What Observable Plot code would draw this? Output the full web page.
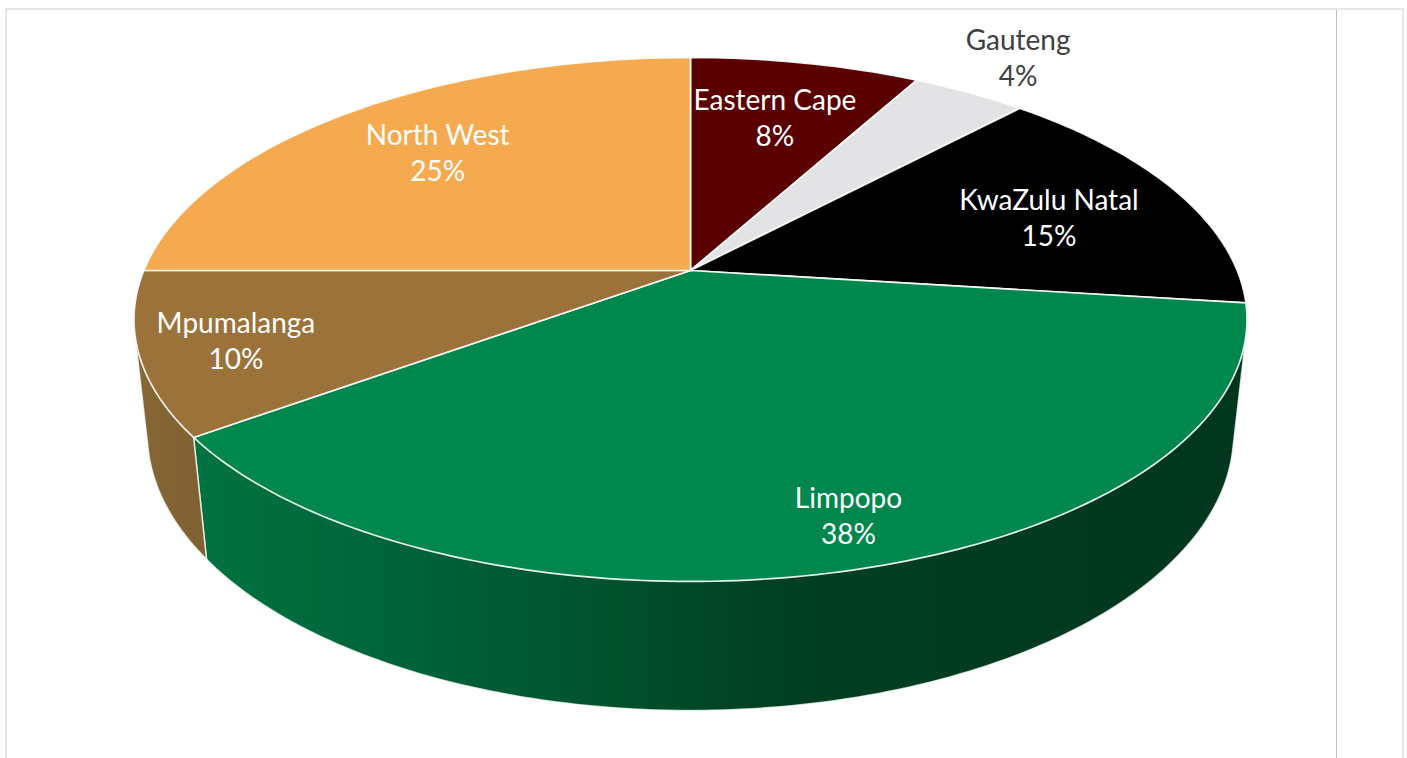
<!DOCTYPE html>
<html>
<head>
<meta charset="utf-8">
<title>Share by province</title>
<script src="https://cdn.jsdelivr.net/npm/d3@7"></script>
<script src="https://cdn.jsdelivr.net/npm/@observablehq/plot@0.6"></script>
<style>
  html, body { margin: 0; padding: 0; background: #fff; overflow: hidden; }
  #chart { position: relative; width: 1407px; height: 758px; }
  #chart svg { position: absolute; left: 0; top: 0; background: transparent; }
  .frame { position: absolute; background: #e6e6e6; }
  #frame-top { left: 5px; top: 8px; width: 1398px; height: 2px; }
  #frame-left { left: 5px; top: 8px; width: 2px; height: 750px; }
  #frame-right { left: 1402px; top: 8px; width: 2px; height: 750px; }
  #frame-inner { left: 1336px; top: 10px; width: 1px; height: 748px; background: #c0c0c0; }
</style>
</head>
<body>
<div id="chart">
  <div class="frame" id="frame-top"></div>
  <div class="frame" id="frame-left"></div>
  <div class="frame" id="frame-right"></div>
  <div class="frame" id="frame-inner"></div>
</div>
<script>
// Provinces in clockwise order starting from twelve o'clock.
const provinces = ["Eastern Cape", "Gauteng", "KwaZulu Natal", "Limpopo", "Mpumalanga", "North West"];
const shares = [8, 4, 15, 38, 10, 25];
const topColors = ["#5a0000", "#e3e3e5", "#000000", "#00874d", "#9b733a", "#f5aa50"];
const labelColors = ["#ffffff", "#404040", "#ffffff", "#ffffff", "#ffffff", "#ffffff"];

// Label placement on the disc: radius, and a nudge (in share points) from the slice middle.
const labelRadius = [0.70, 1.223, 0.714, 0.858, 0.834, 0.716];
const labelNudge = [0, -0.13, 0.7, -0.6, -0.2, 0];

// Only the two front slices show a side wall.
const wallFills = {Limpopo: "url(#limpopo-wall)", Mpumalanga: "url(#mpumalanga-wall)"};
const limpopoWallStops = [[0, "#00723f"], [0.2, "#00633a"], [0.4, "#00512c"], [0.55, "#003f22"], [1, "#00361d"]];
const mpumalangaWallStops = [[0, "#876736"], [1, "#7f6032"]];

// Perspective camera: depth foreshortening of the disc, and the drop to the lower rim.
const depth = 0.187;
const wallShrink = 0.0238;
const wallDrop = 0.4565;
const pxPerUnitX = 546.7;
const pxPerUnitY = 252.8;
const centerPx = [690, 270];

function project(angleDeg, radius, lower = false) {
  const a = angleDeg * Math.PI / 180;
  const u = radius * Math.sin(a);
  const v = radius * Math.cos(a);
  const d = 1 + depth * v + (lower ? wallShrink : 0);
  return {x: u / d, y: (v - (lower ? wallDrop : 0)) / d};
}

function arc(from, to, lower = false) {
  const n = Math.max(2, Math.ceil(Math.abs(to - from)));
  return d3.range(n + 1).map((i) => project(from + (to - from) * i / n, 1, lower));
}

let running = 0;
const slices = provinces.map((name, i) => {
  const start = running / 100 * 360;
  running += shares[i];
  const end = running / 100 * 360;
  return {name, share: shares[i], start, end, fill: topColors[i], labelColor: labelColors[i],
          mid: (start + end) / 2 + labelNudge[i] * 3.6, radius: labelRadius[i]};
});

const labelData = slices.map((s) => ({
  ...project(s.mid, s.radius),
  text: `${s.name}\n${s.share}%`,
  color: s.labelColor
}));

// Gradients for the walls live in a small render-only mark.
function gradient(id, stops) {
  const g = d3.create("svg:linearGradient").attr("id", id);
  stops.forEach(([o, c]) => g.append("stop").attr("offset", o).attr("stop-color", c));
  return g.node();
}
const gradientDefs = () => {
  const defs = d3.create("svg:defs");
  defs.append(() => gradient("limpopo-wall", limpopoWallStops));
  defs.append(() => gradient("mpumalanga-wall", mpumalangaWallStops));
  return defs.node();
};

// Each wall is the hull of its upper and lower rim, so the outer edge follows the
// straight tangent between the two rims; the disc is painted on top of it.
const wallMarks = slices.filter((s) => wallFills[s.name]).map((s) => {
  const rims = [...arc(s.start, s.end), ...arc(s.start, s.end, true)].map((p) => [p.x, p.y]);
  const hull = d3.polygonHull(rims).map(([x, y]) => ({x, y}));
  return Plot.line([...hull, hull[0]], {
    x: "x", y: "y", fill: wallFills[s.name], stroke: "#ffffff", strokeWidth: 1.5, strokeOpacity: 0.75
  });
});

const topMarks = slices.map((s) => {
  const apex = project(0, 0);
  return Plot.line([apex, ...arc(s.start, s.end), apex], {
    x: "x", y: "y", fill: s.fill, stroke: "#ffffff", strokeWidth: 1.7, strokeOpacity: 0.9
  });
});

const chart = Plot.plot({
  width: 1407,
  height: 758,
  margin: 0,
  x: {axis: null, domain: [-centerPx[0] / pxPerUnitX, (1407 - centerPx[0]) / pxPerUnitX], range: [0, 1407]},
  y: {axis: null, domain: [-(758 - centerPx[1]) / pxPerUnitY, centerPx[1] / pxPerUnitY], range: [758, 0]},
  marks: [
    gradientDefs,
    ...wallMarks,
    ...topMarks,
    Plot.text(labelData, {
      x: "x", y: "y", text: "text", fill: "color", dy: -2,
      fontFamily: "Lato", fontSize: 28, lineHeight: 1.286, lineAnchor: "middle", textAnchor: "middle"
    })
  ]
});
document.getElementById("chart").appendChild(chart);
</script>
</body>
</html>
